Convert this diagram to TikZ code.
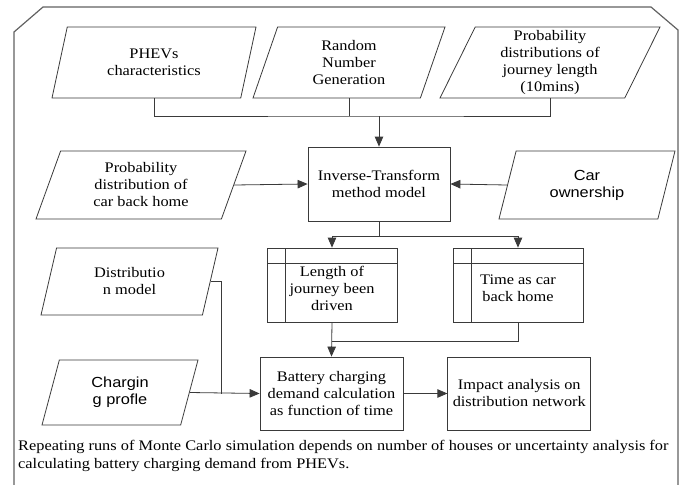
\documentclass[tikz,border=0pt]{standalone}
\usepackage{fontspec}
\setmainfont{Liberation Serif}[FakeStretch=1.12]
\newfontfamily\arialf{Liberation Sans}[FakeStretch=1.12]
\usepackage{tikz}
\usetikzlibrary{positioning, arrows.meta, shapes.geometric}
\definecolor{linec}{HTML}{3A3A3A}

\begin{document}
\begin{tikzpicture}[
    x=1pt, y=-1pt,
    every node/.style={font=\fontsize{14.6}{17}\selectfont},
    block/.style={rectangle, draw=linec, line width=0.8pt, align=center, minimum width=143pt, minimum height=73pt, inner sep=2pt},
    store/.style={rectangle, draw=linec, line width=0.8pt, align=center, minimum width=130pt, minimum height=74pt, inner sep=2pt,
        path picture={
            \draw[linec, line width=0.7pt] ([xshift=18pt]path picture bounding box.north west) -- ([xshift=18pt]path picture bounding box.south west);
            \draw[linec, line width=0.7pt] ([yshift=-15pt]path picture bounding box.north west) -- ([yshift=-15pt]path picture bounding box.north east);
        }},
    plg/.style={trapezium, trapezium left angle=62, trapezium right angle=118, trapezium stretches body, draw=linec, line width=0.8pt, align=center, minimum height=#1, inner sep=1pt},
    plg/.default=70pt,
    sans/.style={font=\arialf\fontsize{14.6}{17}\selectfont},
    line/.style={draw=linec, line width=0.8pt},
    arrow/.style={-{Triangle[length=10pt, width=8.5pt]}, draw=linec, line width=0.8pt},
    frame/.style={draw=linec!80, line width=1.2pt}
]
    \useasboundingbox (0,0) rectangle (681,485);
    \draw [frame] (14,485) -- (14,32) -- (43,7) -- (651,7) -- (678,30) -- (678,485);

    \node [plg=71pt, minimum width=204pt] (phev) at (154,62.5) {PHEVs\\characteristics};
    \node [plg=71pt, minimum width=192pt] (rng) at (349,62.5) {Random\\Number\\Generation};
    \node [plg=71pt, minimum width=220pt] (prob) at (550,62.5) {Probability\\distributions of\\journey length\\(10mins)};

    \node [block, minimum width=142pt, minimum height=74pt] (inv) at (379,184) {Inverse-Transform\\method model};
    \node [plg=68pt, minimum width=210pt] (carhome) at (141,185) {Probability\\distribution of\\car back home};
    \node [plg=68pt, minimum width=176pt, sans] (own) at (587,185) {Car\\ownership};

    \node [store] (len) at (332,285) {\mbox{}\\Length of\\journey been\\driven};
    \node [store] (time) at (518,285) {\mbox{}\\Time as car\\back home};
    \node [plg=67pt, minimum width=177pt] (dist) at (129.5,281.5) {Distributio\\n model};

    \node [block] (bat) at (331.5,393.5) {Battery charging\\demand calculation\\as function of time};
    \node [block, right=44pt of bat] (imp) {Impact analysis on\\distribution network};
    \node [plg=65pt, minimum width=156pt, sans] (chg) at (120,392.5) {Chargin\\g profle};

    \node [anchor=north west, align=left, inner sep=0pt, font=\fontsize{14.6}{18}\selectfont] (note) at (18,440) {Repeating runs of Monte Carlo simulation depends on number of houses or uncertainty analysis for\\calculating battery charging demand from PHEVs.};

    \coordinate (jtop) at (379,116);
    \coordinate (jmid) at (379,236);
    \coordinate (jlow) at (332,341);
    \coordinate (jdist) at (221,393.5);

    \draw [line] (phev.south) |- (jtop) -| (prob.south);
    \draw [line] (rng.south) -- (rng.south |- jtop);
    \draw [arrow] (jtop) -- (inv.north);
    \draw [arrow] (carhome.east) -- (inv.west);
    \draw [arrow] (own.west) -- (inv.east);
    \draw [line] (inv.south) -- (jmid);
    \draw [arrow] (jmid) -| (len.north);
    \draw [arrow] (jmid) -| (time.north);
    \draw [line] (time.south) |- (jlow);
    \draw [arrow] (len.south) -- (bat.north);
    \draw [line] (dist.east) -| (jdist);
    \draw [arrow] (chg.east) -- (bat.west);
    \draw [arrow] (bat) -- (imp);
\end{tikzpicture}
\end{document}
